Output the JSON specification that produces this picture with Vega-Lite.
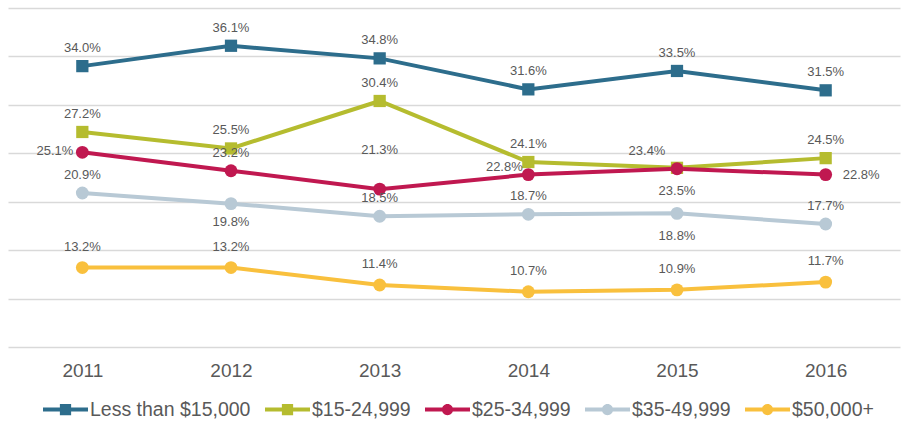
{
  "$schema": "https://vega.github.io/schema/vega-lite/v6.json",
  "width": 892,
  "height": 339,
  "autosize": {"type": "none"},
  "padding": {"left": 8, "top": 8, "right": 1, "bottom": 78},
  "background": "white",
  "config": {
    "view": {"stroke": null},
    "font": "Liberation Sans",
    "text": {"font": "Liberation Sans"}
  },
  "data": {
    "values": [
      {"series": "Less than $15,000", "year": "2011", "value": 34.0},
      {"series": "Less than $15,000", "year": "2012", "value": 36.1},
      {"series": "Less than $15,000", "year": "2013", "value": 34.8},
      {"series": "Less than $15,000", "year": "2014", "value": 31.6},
      {"series": "Less than $15,000", "year": "2015", "value": 33.5},
      {"series": "Less than $15,000", "year": "2016", "value": 31.5},
      {"series": "$15-24,999", "year": "2011", "value": 27.2},
      {"series": "$15-24,999", "year": "2012", "value": 25.5},
      {"series": "$15-24,999", "year": "2013", "value": 30.4},
      {"series": "$15-24,999", "year": "2014", "value": 24.1},
      {"series": "$15-24,999", "year": "2015", "value": 23.5},
      {"series": "$15-24,999", "year": "2016", "value": 24.5},
      {"series": "$25-34,999", "year": "2011", "value": 25.1},
      {"series": "$25-34,999", "year": "2012", "value": 23.2},
      {"series": "$25-34,999", "year": "2013", "value": 21.3},
      {"series": "$25-34,999", "year": "2014", "value": 22.8},
      {"series": "$25-34,999", "year": "2015", "value": 23.4},
      {"series": "$25-34,999", "year": "2016", "value": 22.8},
      {"series": "$35-49,999", "year": "2011", "value": 20.9},
      {"series": "$35-49,999", "year": "2012", "value": 19.8},
      {"series": "$35-49,999", "year": "2013", "value": 18.5},
      {"series": "$35-49,999", "year": "2014", "value": 18.7},
      {"series": "$35-49,999", "year": "2015", "value": 18.8},
      {"series": "$35-49,999", "year": "2016", "value": 17.7},
      {"series": "$50,000+", "year": "2011", "value": 13.2},
      {"series": "$50,000+", "year": "2012", "value": 13.2},
      {"series": "$50,000+", "year": "2013", "value": 11.4},
      {"series": "$50,000+", "year": "2014", "value": 10.7},
      {"series": "$50,000+", "year": "2015", "value": 10.9},
      {"series": "$50,000+", "year": "2016", "value": 11.7}
    ]
  },
  "transform": [
    {"calculate": "format(datum.value, '.1f') + '%'", "as": "label"},
    {"calculate": "datum.series + '|' + datum.year", "as": "key"}
  ],
  "encoding": {
    "x": {
      "field": "year", "type": "ordinal",
      "scale": {"type": "point", "padding": 0.5},
      "axis": {"title": null, "domain": false, "ticks": false, "labelAngle": 0, "labelFontSize": 19, "labelColor": "#595959", "labelPadding": 14, "labelFont": "Liberation Sans"}
    },
    "y": {
      "field": "value", "type": "quantitative",
      "scale": {"domain": [5, 40], "nice": false, "zero": false},
      "axis": {"title": null, "domain": false, "ticks": false, "labels": false, "values": [5, 10, 15, 20, 25, 30, 35, 40], "gridColor": "#d9d9d9", "gridWidth": 1.6}
    },
    "color": {
      "field": "series", "type": "nominal",
      "scale": {
        "domain": ["Less than $15,000", "$15-24,999", "$25-34,999", "$35-49,999", "$50,000+"],
        "range": ["#2d6d8c", "#b5bc2f", "#c01850", "#b8c9d5", "#f9c03d"]
      },
      "legend": {
        "title": null,
        "orient": "none",
        "direction": "horizontal",
        "legendX": 35,
        "legendY": 379,
        "symbolSize": 2025,
        "labelFontSize": 19.5,
        "labelColor": "#595959",
        "labelFont": "Liberation Sans",
        "labelOffset": 2,
        "columnPadding": 14,
        "labelLimit": 300,
        "encode": {
          "symbols": {
            "update": {
              "shape": {"signal": "(datum.value == 'Less than $15,000' || datum.value == '$15-24,999') ? 'M-1,-0.09H1V0.09H-1Z M-0.25,-0.25H0.25V0.25H-0.25Z' : 'M-1,-0.09H1V0.09H-1Z M-0.25,0A0.25,0.25 0 1,1 0.25,0A0.25,0.25 0 1,1 -0.25,0Z'"},
              "fill": {"signal": "scale('color', datum.value)"},
              "stroke": {"value": "transparent"},
              "strokeWidth": {"value": 0},
              "size": {"value": 2025},
              "opacity": {"value": 1}
            }
          }
        }
      }
    }
  },
  "layer": [
    {
      "mark": {"type": "line", "strokeWidth": 4}
    },
    {
      "transform": [{"filter": "datum.series == 'Less than $15,000' || datum.series == '$15-24,999'"}],
      "mark": {"type": "point", "shape": "square", "filled": true, "opacity": 1, "size": 150}
    },
    {
      "transform": [{"filter": "datum.series != 'Less than $15,000' && datum.series != '$15-24,999'"}],
      "mark": {"type": "point", "shape": "circle", "filled": true, "opacity": 1, "size": 165}
    },
    {
      "transform": [{"filter": "datum.series != '$50,000+' && indexof(['$25-34,999|2011','$25-34,999|2013','$25-34,999|2014','$25-34,999|2015','$25-34,999|2016','$35-49,999|2012','$35-49,999|2015','$15-24,999|2015'], datum.key) < 0"}],
      "mark": {"type": "text", "fontSize": 13, "dy": -18, "baseline": "middle"},
      "encoding": {"text": {"field": "label"}, "color": {"value": "#595959"}}
    },
    {
      "transform": [{"filter": "datum.series == '$50,000+'"}],
      "mark": {"type": "text", "fontSize": 13, "dy": -21, "baseline": "middle"},
      "encoding": {"text": {"field": "label"}, "color": {"value": "#595959"}}
    },
    {
      "transform": [{"filter": "datum.key == '$25-34,999|2011'"}],
      "mark": {"type": "text", "fontSize": 13, "align": "right", "dx": -9, "dy": -1, "baseline": "middle"},
      "encoding": {"text": {"field": "label"}, "color": {"value": "#595959"}}
    },
    {
      "transform": [{"filter": "datum.key == '$25-34,999|2013'"}],
      "mark": {"type": "text", "fontSize": 13, "dy": -39, "baseline": "middle"},
      "encoding": {"text": {"field": "label"}, "color": {"value": "#595959"}}
    },
    {
      "transform": [{"filter": "datum.key == '$25-34,999|2014'"}],
      "mark": {"type": "text", "fontSize": 13, "dx": -24, "dy": -8, "baseline": "middle"},
      "encoding": {"text": {"field": "label"}, "color": {"value": "#595959"}}
    },
    {
      "transform": [{"filter": "datum.key == '$25-34,999|2015'"}],
      "mark": {"type": "text", "fontSize": 13, "dx": -30, "dy": -18, "baseline": "middle"},
      "encoding": {"text": {"field": "label"}, "color": {"value": "#595959"}}
    },
    {
      "transform": [{"filter": "datum.key == '$25-34,999|2016'"}],
      "mark": {"type": "text", "fontSize": 13, "align": "left", "dx": 17, "dy": 0, "baseline": "middle"},
      "encoding": {"text": {"field": "label"}, "color": {"value": "#595959"}}
    },
    {
      "transform": [{"filter": "datum.key == '$35-49,999|2012'"}],
      "mark": {"type": "text", "fontSize": 13, "dy": 18, "baseline": "middle"},
      "encoding": {"text": {"field": "label"}, "color": {"value": "#595959"}}
    },
    {
      "transform": [{"filter": "datum.key == '$35-49,999|2015' || datum.key == '$15-24,999|2015'"}],
      "mark": {"type": "text", "fontSize": 13, "dy": 23, "baseline": "middle"},
      "encoding": {"text": {"field": "label"}, "color": {"value": "#595959"}}
    }
  ]
}
